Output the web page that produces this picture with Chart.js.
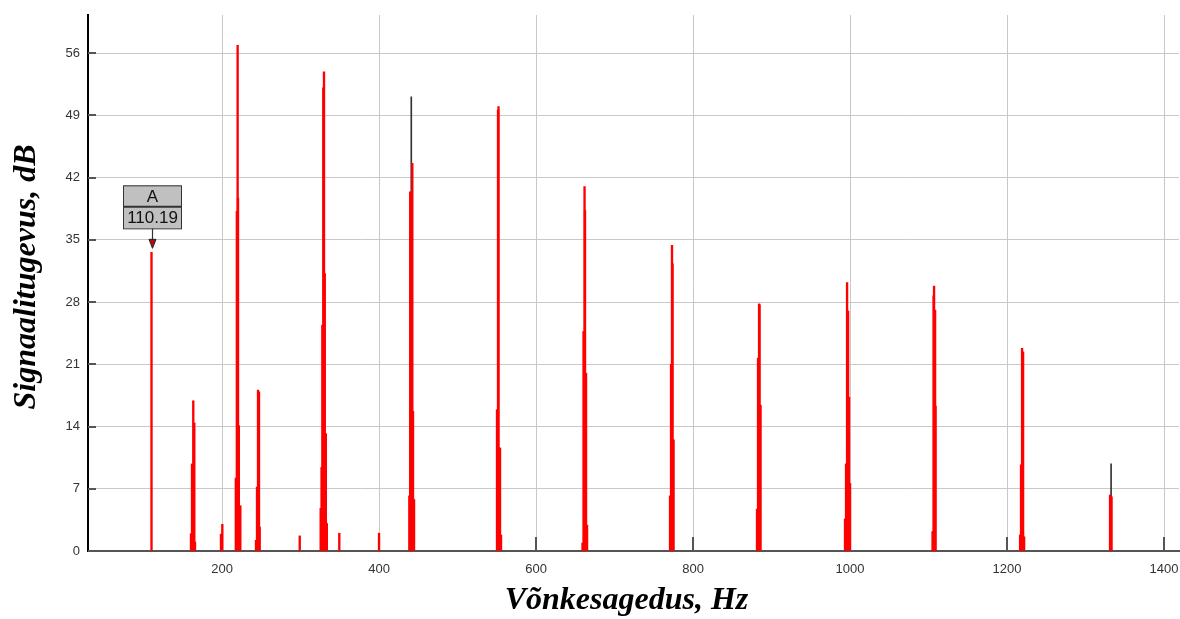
<!DOCTYPE html>
<html><head><meta charset="utf-8">
<script src="https://cdn.jsdelivr.net/npm/chart.js@4/dist/chart.umd.min.js"></script>
<style>html,body{margin:0;padding:0;background:#fff;}#wrap{width:1180px;height:619px;position:relative;}</style>
</head><body><div id="wrap"><canvas id="c" width="1180" height="619"></canvas></div>
<script>
// Spectrum bins (Hz) and amplitudes (dB)
const freqs = [
  110.19,
  160.5, 161.8, 163.4, 164.7, 165.6,
  198.7, 200.4,
  217.6, 218.9, 219.9, 220.4, 221.4, 223.3,
  243.3, 244.6, 245.9, 247.1, 248.0,
  299.0, 349.4,
  325.7, 326.8, 327.8, 329.0, 329.9, 330.9, 332.2, 333.5,
  400.0,
  438.6, 439.7, 442.4, 443.3, 444.6,
  550.3, 551.6, 552.2, 554.1, 555.4,
  659.2, 660.5, 661.8, 662.4, 663.7, 665.0,
  770.7, 772.0, 773.2, 773.9, 775.2,
  881.5, 882.8, 884.1, 884.7, 886.0,
  993.6, 994.9, 996.2, 997.5, 998.7, 1000.0,
  1105.1, 1106.4, 1107.0, 1108.3, 1108.9,
  1216.6, 1217.8, 1219.1, 1220.4, 1221.7,
  1331.2, 1333.1
];
const amps = [
  33.6,
  1.95, 9.8, 16.9, 14.4, 1.0,
  1.9, 3.0,
  8.2, 38.2, 56.9, 39.7, 14.1, 5.1,
  1.2, 7.2, 18.1, 17.9, 2.7,
  1.7, 2.0,
  4.8, 9.4, 25.4, 52.1, 53.9, 31.2, 13.2, 3.1,
  2.0,
  6.2, 40.4, 43.6, 15.7, 5.8,
  15.9, 49.6, 50.0, 11.6, 1.8,
  0.9, 24.7, 41.0, 38.3, 20.0, 2.9,
  6.2, 21.0, 34.4, 32.3, 12.5,
  4.7, 21.7, 27.8, 27.7, 16.4,
  3.6, 9.8, 30.2, 27.0, 17.3, 7.6,
  2.2, 28.7, 29.8, 27.1, 16.3,
  1.8, 9.7, 22.8, 22.4, 1.6,
  6.3, 6.1
];
// thin dark peak lines
const darkFreqs = [441.1, 1332.5];
const darkAmps = [51.1, 9.8];
const xTicks = [200, 400, 600, 800, 1000, 1200, 1400];
const yTicks = [0, 7, 14, 21, 28, 35, 42, 49, 56];
const xTitle = 'Võnkesagedus, Hz';
const yTitle = 'Signaalitugevus, dB';
const markerLabel = 'A';
const markerFreq = 110.19;
const markerAmp = 33.6;

const titleCss = 'italic bold 32px "Liberation Serif", "Times New Roman", serif';

const extras = {
  id: 'extras',
  beforeDatasetsDraw(chart) {
    const {ctx, scales: {x, y}, chartArea: a} = chart;
    ctx.save();
    ctx.strokeStyle = '#555';
    ctx.lineWidth = 2;
    x.ticks.forEach(t => {
      const px = Math.round(x.getPixelForValue(t.value));
      ctx.beginPath(); ctx.moveTo(px, a.bottom); ctx.lineTo(px, a.bottom - 14); ctx.stroke();
    });
    y.ticks.forEach(t => {
      const py = Math.round(y.getPixelForValue(t.value));
      ctx.beginPath(); ctx.moveTo(a.left, py); ctx.lineTo(a.left + 8, py); ctx.stroke();
    });
    ctx.restore();
  },
  afterDatasetsDraw(chart) {
    const {ctx, scales: {x, y}} = chart;
    const px = Math.round(x.getPixelForValue(markerFreq));
    const tip = y.getPixelForValue(markerAmp) - 4;
    const bw = 58, rh = 21.5;
    const bb = tip - 20, bt = bb - 2 * rh, bl = px - bw / 2;
    ctx.save();
    ctx.strokeStyle = '#333'; ctx.lineWidth = 1.2;
    ctx.beginPath(); ctx.moveTo(px + 0.5, bb); ctx.lineTo(px + 0.5, tip - 9); ctx.stroke();
    ctx.fillStyle = '#b01010'; ctx.strokeStyle = '#222'; ctx.lineWidth = 1;
    ctx.beginPath(); ctx.moveTo(px - 3, tip - 9); ctx.lineTo(px + 4, tip - 9); ctx.lineTo(px + 0.5, tip); ctx.closePath(); ctx.fill(); ctx.stroke();
    ctx.fillStyle = '#c0c0c0';
    ctx.fillRect(bl, bt, bw, 2 * rh);
    ctx.strokeStyle = '#333'; ctx.lineWidth = 1;
    ctx.strokeRect(bl + 0.5, bt + 0.5, bw, 2 * rh);
    ctx.lineWidth = 2;
    ctx.beginPath(); ctx.moveTo(bl, bt + rh); ctx.lineTo(bl + bw, bt + rh); ctx.stroke();
    ctx.fillStyle = '#111';
    ctx.font = '17px "Liberation Sans", Arial, sans-serif';
    ctx.textAlign = 'center'; ctx.textBaseline = 'middle';
    ctx.fillText(markerLabel, px + 0.5, bt + rh / 2 + 1);
    ctx.fillText(markerFreq.toFixed(2), px + 0.5, bt + rh * 1.5 + 1);
    ctx.restore();
  },
  afterDraw(chart) {
    const {ctx, chartArea: a} = chart;
    ctx.save();
    ctx.fillStyle = '#000';
    ctx.font = titleCss;
    ctx.textAlign = 'center'; ctx.textBaseline = 'middle';
    ctx.fillText(xTitle, (a.left + a.right) / 2 - 7, a.bottom + 50);
    ctx.translate(27, (a.top + a.bottom) / 2 - 6);
    ctx.rotate(-Math.PI / 2);
    ctx.fillText(yTitle, 0, 0);
    ctx.restore();
  }
};

const tickFont = {family: '"Liberation Sans", Arial, sans-serif', size: 13};

new Chart(document.getElementById('c'), {
  type: 'bar',
  data: {
    datasets: [
      {data: freqs.map((f, i) => ({x: f, y: amps[i]})), backgroundColor: '#ff0000', barThickness: 1.7, order: 1, grouped: false},
      {data: darkFreqs.map((f, i) => ({x: f, y: darkAmps[i]})), backgroundColor: '#333333', barThickness: 1, order: 2, grouped: false}
    ]
  },
  options: {
    responsive: false,
    animation: false,
    layout: {padding: {top: 15, right: 1, left: 0, bottom: 0}},
    plugins: {legend: {display: false}, tooltip: {enabled: false}},
    scales: {
      x: {
        type: 'linear', min: 29.3, max: 1419, offset: false,
        afterBuildTicks: s => { s.ticks = xTicks.map(v => ({value: v})); },
        afterFit: s => { s.height = 68; s.paddingRight = 0; s.paddingLeft = 0; },
        grid: {color: '#c8c8c8', lineWidth: 1, drawTicks: false, offset: false},
        border: {color: '#555', width: 2},
        ticks: {padding: 11, font: tickFont, color: '#333', callback: v => String(v), maxRotation: 0, autoSkip: false},
        title: {display: false}
      },
      y: {
        type: 'linear', min: 0, max: 60.3,
        afterBuildTicks: s => { s.ticks = yTicks.map(v => ({value: v})); },
        afterFit: s => { s.width = 88; s.paddingTop = 0; s.paddingBottom = 0; },
        grid: {color: '#c8c8c8', lineWidth: 1, drawTicks: false},
        border: {color: '#000', width: 2},
        ticks: {padding: 8, font: tickFont, color: '#333', callback: v => String(v), autoSkip: false},
        title: {display: false}
      }
    }
  },
  plugins: [extras]
});
</script></body></html>
